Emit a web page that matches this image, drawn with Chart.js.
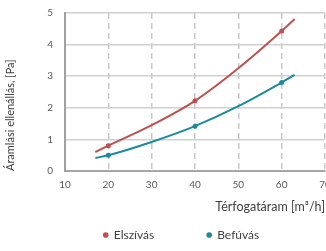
<!DOCTYPE html>
<html>
<head>
<meta charset="utf-8">
<script src="https://cdn.jsdelivr.net/npm/chart.js@4"></script>
<style>
  body { margin: 0; background: #fff; }
</style>
</head>
<body>
<canvas id="myChart" width="326" height="251"></canvas>
<script>
// flow rate [m3/h]
const flow = [17, 20, 30, 40, 50, 60, 63];
// resistance [Pa]
const elszivas = [0.6, 0.8, 1.45, 2.22, 3.25, 4.43, 4.81];
const befuvas = [0.41, 0.5, 0.92, 1.42, 2.05, 2.8, 3.04];
// only the measured points get a marker
const markers = [0, 2.5, 0, 2.5, 0, 2.5, 0];

const xTicks = [10, 20, 30, 40, 50, 60, 70];
const yTicks = [0, 1, 2, 3, 4, 5];

Chart.defaults.font.family = 'Lato, sans-serif';

const red = '#c0504d';
const teal = '#1b8a9b';

function toPoints(ys) {
    return flow.map((x, i) => ({ x: x, y: ys[i] }));
}

const ctx = document.getElementById('myChart').getContext('2d');

new Chart(ctx, {
    type: 'line',
    data: {
        datasets: [{
            label: 'Elszívás',
            data: toPoints(elszivas),
            borderColor: red,
            backgroundColor: red,
            borderWidth: 2,
            pointRadius: markers,
            pointBorderWidth: 0,
            cubicInterpolationMode: 'monotone'
        },
        {
            label: 'Befúvás',
            data: toPoints(befuvas),
            borderColor: teal,
            backgroundColor: teal,
            borderWidth: 2,
            pointRadius: markers,
            pointBorderWidth: 0,
            cubicInterpolationMode: 'monotone'
        }]
    },
    options: {
        responsive: false,
        animation: false,
        layout: {
            padding: { top: 13, right: 1, left: 4, bottom: 0 }
        },
        scales: {
            x: {
                type: 'linear',
                min: 10,
                max: 70,
                afterBuildTicks: s => { s.ticks = xTicks.map(v => ({ value: v })); },
                afterFit: s => { s.paddingRight = 0; s.paddingLeft = 0; },
                grid: { color: '#c8c8c8', lineWidth: 1.5, drawTicks: false },
                border: { display: true, color: '#a6a6a6', width: 2, dash: [6, 4] },
                ticks: { color: '#595959', font: { size: 10 }, padding: 8, maxRotation: 0 },
                title: {
                    display: true,
                    text: 'Térfogatáram [m³/h]',
                    align: 'end',
                    color: '#404040',
                    font: { size: 12.5 },
                    padding: { top: 0, bottom: 13 }
                }
            },
            y: {
                min: 0,
                max: 5,
                afterBuildTicks: s => { s.ticks = yTicks.map(v => ({ value: v })); },
                afterFit: s => { s.paddingTop = 0; s.paddingBottom = 0; },
                grid: { color: '#d0d0d0', lineWidth: 1.5, drawTicks: false },
                border: { display: true, color: '#a0a0a0', width: 2 },
                ticks: { color: '#595959', font: { size: 10 }, padding: 12 },
                title: {
                    display: true,
                    text: 'Áramlási ellenállás, [Pa]',
                    align: 'start',
                    color: '#404040',
                    font: { size: 11 },
                    padding: { top: 0, bottom: 18 }
                }
            }
        },
        plugins: {
            legend: {
                position: 'bottom',
                fullSize: false,
                labels: {
                    usePointStyle: true,
                    pointStyle: 'circle',
                    boxWidth: 4,
                    boxHeight: 4,
                    color: '#404040',
                    font: { size: 12 },
                    padding: 2,
                    generateLabels: chart => {
                        const items = Chart.defaults.plugins.legend.labels.generateLabels(chart);
                        // widen the gap between the two entries and nudge the pair left
                        items[0].text = items[0].text + '\u2003\u2003\u2003\u2003\u2003\u2002';
                        items[1].text = items[1].text + '\u2003\u2003\u2003';
                        return items;
                    }
                }
            },
            tooltip: { enabled: false }
        }
    }
});
</script>
</body>
</html>
